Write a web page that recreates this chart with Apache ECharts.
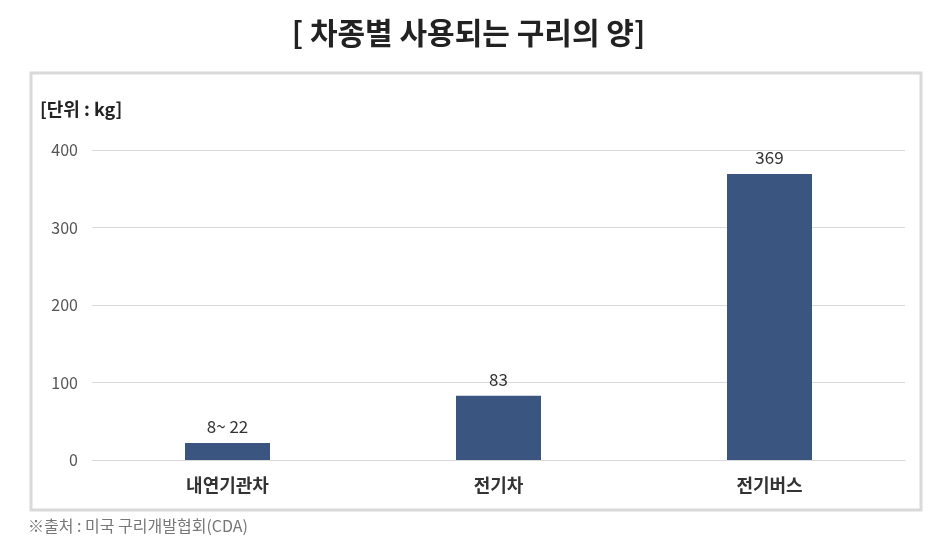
<!DOCTYPE html>
<html><head><meta charset="utf-8">
<script src="https://cdn.jsdelivr.net/npm/echarts@6/dist/echarts.min.js"></script>
<style>html,body{margin:0;padding:0;background:#fff}#c{width:937px;height:553px}</style>
</head><body><div id="c"></div>
<script>
const categories = ['내연기관차', '전기차', '전기버스'];
const values = [22, 83, 369];
const labels = ['8~ 22', '83', '369'];
const yTicks = [0, 100, 200, 300, 400];
const F = '"Noto Sans CJK KR", "Noto Sans", sans-serif';
const chart = echarts.init(document.getElementById('c'));
chart.setOption({
  animation: false,
  graphic: [
    {type:'rect', shape:{x:31,y:73,width:890,height:437}, style:{fill:'none', stroke:'#d9d9d9', lineWidth:3}},
    {type:'text', left:'center', top:18, style:{text:'[ 차종별 사용되는 구리의 양]', font:'bold 30px '+F, fill:'#222'}},
    {type:'text', left:40, top:100, style:{text:'[단위 : kg]', font:'bold 18px '+F, fill:'#222'}},
    {type:'text', left:28, top:518, style:{text:'※출처 : 미국 구리개발협회(CDA)', font:'16px '+F, fill:'#777'}}
  ],
  grid: {left: 92, right: 32, top: 150, bottom: 93},
  xAxis: {type:'category', data: categories, axisTick:{show:false},
    axisLine:{lineStyle:{color:'#d9d9d9'}},
    axisLabel:{fontFamily:F, fontSize:18, fontWeight:'bold', color:'#333', margin:16}},
  yAxis: {type:'value', min:0, max:400, interval:100,
    axisLabel:{fontFamily:F, fontSize:16, color:'#555', margin:14, formatter:v=>yTicks.includes(v)?String(v):''},
    splitLine:{lineStyle:{color:'#d9d9d9'}}},
  series: [{type:'bar', data: values, barWidth:85, itemStyle:{color:'#3a5580'},
    label:{show:true, position:'top', distance:8, fontFamily:F, fontSize:17, color:'#333',
      formatter:p=>labels[p.dataIndex]}}]
});
</script></body></html>
